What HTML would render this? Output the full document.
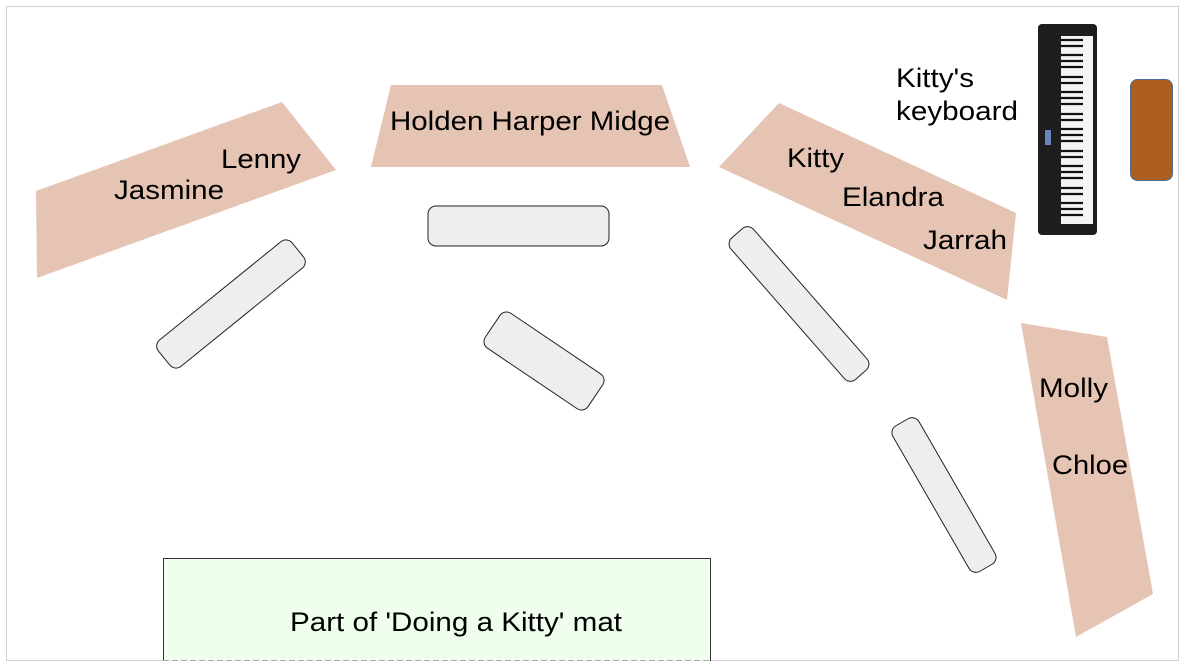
<!DOCTYPE html>
<html><head><meta charset="utf-8"><style>html,body{margin:0;padding:0;background:#fff}svg{display:block}text{font-family:"Liberation Sans",sans-serif;font-size:27px;fill:#000}</style></head><body>
<svg width="1186" height="668" viewBox="0 0 1186 668" xmlns="http://www.w3.org/2000/svg">
<rect x="6.5" y="6.5" width="1172" height="654" fill="#fff" stroke="#d0d0d0"/>
<g fill="#e5c4b3">
<polygon points="36,191 282,102 336,170 37,278"/>
<polygon points="391,85 662,85 690,167 371,167"/>
<polygon points="719,167 779,103 1016,213 1007,300"/>
<polygon points="1021,323 1107,337 1153,594 1076,637"/>
</g>
<g fill="#eeeeee" stroke="#222" stroke-width="1">
<rect x="-86" y="-17" width="172" height="34" rx="8" transform="translate(231,304) rotate(-39)"/>
<rect x="428" y="206" width="181" height="40" rx="8"/>
<rect x="-62" y="-21" width="124" height="42" rx="8" transform="translate(544,361) rotate(34)"/>
<rect x="-94" y="-15" width="188" height="30" rx="8" transform="translate(799,304) rotate(48.8)"/>
<rect x="-84" y="-15" width="168" height="30" rx="8" transform="translate(944,495) rotate(60)"/>
</g>
<rect x="163" y="558" width="548" height="103" fill="#effeed"/>
<path d="M163.5,661 V558.5 H710.5 V661" fill="none" stroke="#333"/>
<line x1="163" y1="660.5" x2="711" y2="660.5" stroke="#aaa" stroke-dasharray="6,3"/>
<rect x="1038" y="24" width="59" height="211" rx="4" fill="#1e1e1e"/>
<rect x="1061" y="36" width="32" height="188" fill="#f4f4f4"/>
<g stroke="#111" stroke-width="2.2">
<line x1="1061" y1="40" x2="1083" y2="40"/><line x1="1061" y1="46" x2="1083" y2="46"/><line x1="1061" y1="55" x2="1083" y2="55"/><line x1="1061" y1="61" x2="1083" y2="61"/><line x1="1061" y1="67" x2="1083" y2="67"/>
<line x1="1061" y1="77" x2="1083" y2="77"/><line x1="1061" y1="83" x2="1083" y2="83"/><line x1="1061" y1="92" x2="1083" y2="92"/><line x1="1061" y1="98" x2="1083" y2="98"/><line x1="1061" y1="104" x2="1083" y2="104"/>
<line x1="1061" y1="114" x2="1083" y2="114"/><line x1="1061" y1="120" x2="1083" y2="120"/><line x1="1061" y1="129" x2="1083" y2="129"/><line x1="1061" y1="135" x2="1083" y2="135"/><line x1="1061" y1="141" x2="1083" y2="141"/>
<line x1="1061" y1="151" x2="1083" y2="151"/><line x1="1061" y1="157" x2="1083" y2="157"/><line x1="1061" y1="166" x2="1083" y2="166"/><line x1="1061" y1="172" x2="1083" y2="172"/><line x1="1061" y1="178" x2="1083" y2="178"/>
<line x1="1061" y1="188" x2="1083" y2="188"/><line x1="1061" y1="194" x2="1083" y2="194"/><line x1="1061" y1="203" x2="1083" y2="203"/><line x1="1061" y1="209" x2="1083" y2="209"/><line x1="1061" y1="215" x2="1083" y2="215"/>
</g>
<rect x="1045" y="130" width="6" height="15" fill="#6a86b8"/>
<rect x="1130.5" y="79.5" width="42" height="101" rx="7" fill="#ad5f22" stroke="#4a6a9a"/>
<text x="390" y="130" textLength="280" lengthAdjust="spacingAndGlyphs">Holden Harper Midge</text>
<text x="221" y="168" textLength="80" lengthAdjust="spacingAndGlyphs">Lenny</text>
<text x="114" y="199" textLength="110" lengthAdjust="spacingAndGlyphs">Jasmine</text>
<text x="787" y="167" textLength="57" lengthAdjust="spacingAndGlyphs">Kitty</text>
<text x="842" y="206" textLength="102" lengthAdjust="spacingAndGlyphs">Elandra</text>
<text x="923" y="249" textLength="84" lengthAdjust="spacingAndGlyphs">Jarrah</text>
<text x="1039" y="397" textLength="69" lengthAdjust="spacingAndGlyphs">Molly</text>
<text x="1052" y="474" textLength="76" lengthAdjust="spacingAndGlyphs">Chloe</text>
<text x="896" y="87" textLength="78" lengthAdjust="spacingAndGlyphs">Kitty's</text>
<text x="896" y="120" textLength="122" lengthAdjust="spacingAndGlyphs">keyboard</text>
<text x="290" y="631" textLength="332" lengthAdjust="spacingAndGlyphs">Part of 'Doing a Kitty' mat</text>
</svg>
</body></html>
